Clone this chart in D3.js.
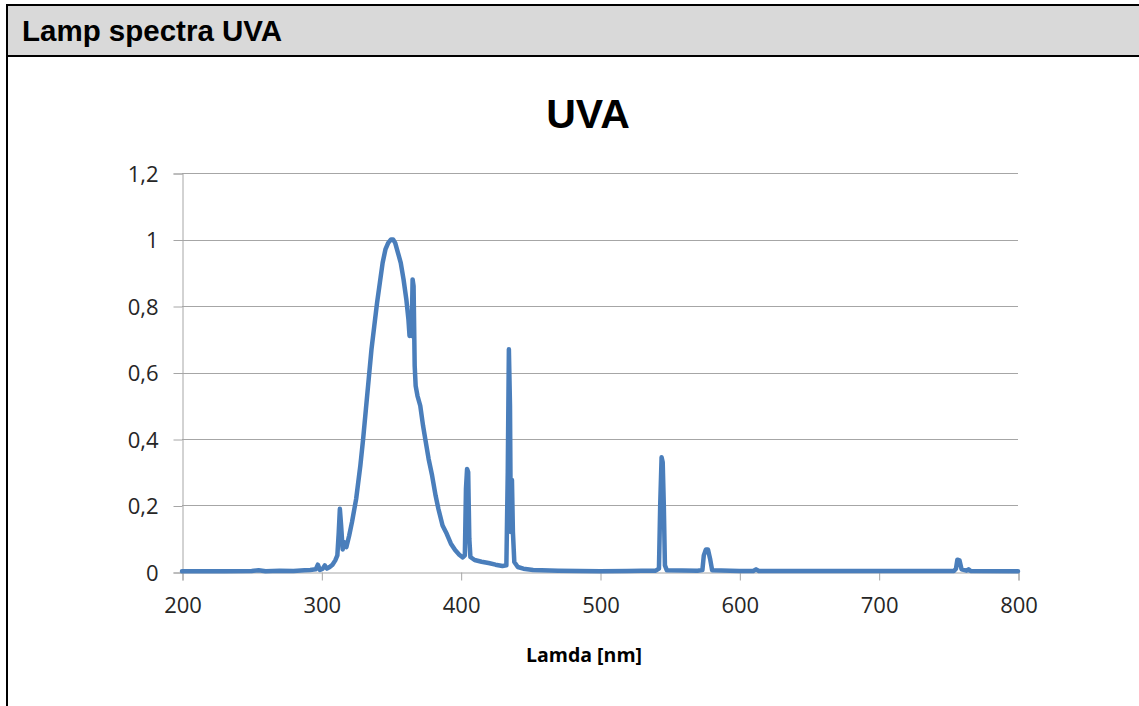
<!DOCTYPE html>
<html>
<head>
<meta charset="utf-8">
<script src="https://cdn.jsdelivr.net/npm/d3@7"></script>
<style>
  body { margin: 0; background: #fff; }
  svg { display: block; }
</style>
</head>
<body>
<div id="chartDiv"></div>
<script>
var width = 1139,
    height = 706;

// spectrum: wavelength (nm) and relative intensity
var wavelengths = [200, 230, 250, 255, 260, 270, 280, 288, 292, 296, 297.5, 299, 301, 302.5, 304, 306, 308, 310, 311.5,
    312.5, 313.3, 314.2, 315.3, 316.5, 318, 320, 322, 325, 328, 330, 332, 334, 336, 338, 340, 342, 344, 346, 348,
    350, 351.5, 353, 355, 357, 359, 361, 362.5, 363.3, 364, 364.8, 365.5, 366.2, 367, 367.7, 369, 371, 373, 375,
    377, 379.5, 382, 384, 387, 390, 393, 396, 399, 401.5, 403, 403.8, 404.6, 405.4, 406.2, 407, 410, 415, 420,
    425, 430, 432.8, 433.8, 434.6, 435.4, 436, 436.8, 437.5, 438.5, 441, 445, 452, 470, 500, 520, 530, 540,
    542.3, 543.2, 544.2, 545, 545.8, 546.6, 548, 570, 573.5, 574.5, 576, 577.5, 579, 580.5, 600, 610, 612, 614,
    690, 754, 755.5, 756.5, 758, 759.5, 763, 764.5, 766, 800];
var intensity = [0.002, 0.002, 0.003, 0.005, 0.002, 0.004, 0.003, 0.005, 0.006, 0.008, 0.022, 0.006, 0.01, 0.02, 0.01, 0.015, 0.022, 0.035, 0.05,
    0.12, 0.19, 0.14, 0.068, 0.09, 0.075, 0.11, 0.15, 0.22, 0.32, 0.40, 0.49, 0.58, 0.67, 0.74, 0.81, 0.87, 0.93, 0.97, 0.99,
    1.0, 1.0, 0.99, 0.96, 0.93, 0.88, 0.82, 0.76, 0.71, 0.76, 0.71, 0.88, 0.86, 0.62, 0.56, 0.53, 0.50, 0.44, 0.39,
    0.34, 0.29, 0.23, 0.19, 0.14, 0.115, 0.085, 0.066, 0.052, 0.044, 0.05, 0.25, 0.31, 0.30, 0.1, 0.045, 0.036, 0.031, 0.027,
    0.022, 0.018, 0.02, 0.3, 0.67, 0.5, 0.12, 0.277, 0.12, 0.03, 0.015, 0.01, 0.006, 0.004, 0.002, 0.003, 0.004, 0.004,
    0.01, 0.2, 0.345, 0.33, 0.2, 0.02, 0.005, 0.004, 0.006, 0.05, 0.068, 0.068, 0.04, 0.005, 0.003, 0.003, 0.008, 0.003,
    0.003, 0.003, 0.01, 0.037, 0.035, 0.008, 0.004, 0.008, 0.003, 0.002];

var xTicks = [200, 300, 400, 500, 600, 700, 800];
var yTicks = [0, 0.2, 0.4, 0.6, 0.8, 1, 1.2];
var yTickLabels = ["0", "0,2", "0,4", "0,6", "0,8", "1", "1,2"];

var svg = d3.select("#chartDiv")
    .append("svg")
    .attr("width", width)
    .attr("height", height);

// header band with the black frame
svg.append("rect")
    .attr("x", 7).attr("y", 5)
    .attr("width", width).attr("height", 51)
    .attr("fill", "#d9d9d9");
svg.append("line")
    .attr("x1", 7).attr("x2", width).attr("y1", 5).attr("y2", 5)
    .attr("stroke", "#000").attr("stroke-width", 2);
svg.append("line")
    .attr("x1", 7).attr("x2", width).attr("y1", 56).attr("y2", 56)
    .attr("stroke", "#000").attr("stroke-width", 2);
svg.append("line")
    .attr("x1", 7).attr("x2", 7).attr("y1", 4).attr("y2", height)
    .attr("stroke", "#000").attr("stroke-width", 2);
svg.append("text")
    .attr("x", 22).attr("y", 41)
    .style("font-family", "'Liberation Sans', Arial, sans-serif")
    .style("font-weight", "bold")
    .style("font-size", "29.5px")
    .text("Lamp spectra UVA");

// chart title
svg.append("text")
    .attr("x", 588).attr("y", 128)
    .attr("text-anchor", "middle")
    .style("font-family", "'Liberation Sans', Arial, sans-serif")
    .style("font-weight", "bold")
    .style("font-size", "41px")
    .text("UVA");

var x = d3.scaleLinear().domain([200, 800]).range([182, 1018]);
var y = d3.scaleLinear().domain([0, 1.2]).range([572, 173]);

var gridColor = "#a6a6a6";

// gridlines
svg.append("g")
    .selectAll("line")
    .data(yTicks.filter(function (d) { return d > 0; }))
    .enter().append("line")
    .attr("x1", x(200)).attr("x2", x(800))
    .attr("y1", function (d) { return Math.round(y(d)) + 0.5; })
    .attr("y2", function (d) { return Math.round(y(d)) + 0.5; })
    .attr("stroke", gridColor).attr("stroke-width", 1);

// y axis
var yAxis = svg.append("g")
    .attr("transform", "translate(" + (x(200) + 0.5) + ",0.5)")
    .call(d3.axisLeft(y).tickValues(yTicks).tickSize(9).tickPadding(15)
        .tickFormat(function (d, i) { return yTickLabels[i]; }));

// x axis
var xAxis = svg.append("g")
    .attr("transform", "translate(0.5," + (y(0) + 0.5) + ")")
    .call(d3.axisBottom(x).tickValues(xTicks).tickSize(8).tickPadding(17)
        .tickFormat(d3.format("d")));

[yAxis, xAxis].forEach(function (ax) {
    ax.select(".domain").attr("stroke", gridColor);
    ax.selectAll(".tick line").attr("stroke", gridColor);
    ax.selectAll(".tick text")
        .attr("fill", "#262626")
        .style("font-family", "'Open Sans', sans-serif")
        .style("font-size", "22px");
});
yAxis.selectAll(".tick text").attr("dy", "0.36em");

// axis title
svg.append("text")
    .attr("x", 584).attr("y", 662)
    .attr("text-anchor", "middle")
    .style("font-family", "'Open Sans', sans-serif")
    .style("font-weight", "bold")
    .style("font-size", "19.5px")
    .text("Lamda [nm]");

// spectrum line
var points = wavelengths.map(function (w, i) { return [w, intensity[i]]; });
var line = d3.line()
    .x(function (d) { return x(d[0]); })
    .y(function (d) { return y(d[1]); });

svg.append("path")
    .datum(points)
    .attr("d", line)
    .attr("fill", "none")
    .attr("stroke", "#4a7ebb")
    .attr("stroke-width", 4.5)
    .attr("stroke-linejoin", "round")
    .attr("stroke-linecap", "round");
</script>
</body>
</html>
